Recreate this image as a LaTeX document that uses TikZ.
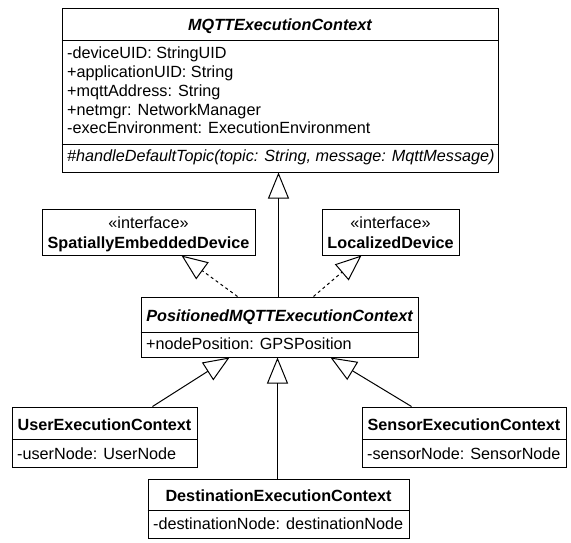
\documentclass[tikz,border=0pt]{standalone}
\usepackage{fontspec}
\setmainfont{Liberation Sans}
\usetikzlibrary{arrows.meta,calc}
\begin{document}
\begin{tikzpicture}[x=1pt,y=-1pt,
  box/.style={draw, line width=1pt, inner sep=0pt, fill=white},
  sepline/.style={line width=1pt},
  txt/.style={inner sep=0pt, font=\fontsize{16.2}{18}\selectfont},
  ttl/.style={txt, anchor=base, font=\fontsize{16.2}{18}\selectfont\bfseries},
  attr/.style={txt, anchor=base west},
  gen/.style={line width=1pt, -{Triangle[open, length=26pt, width=21pt, line width=1pt]}},
  real/.style={gen, dash pattern=on 3pt off 3pt}]
\useasboundingbox[fill=white] (0,0) rectangle (571,543);

% MQTTExecutionContext
\node[box, minimum width=436pt, minimum height=163pt] (main) at (280,90.5) {};
\draw[sepline] (main.west |- 0,41) -- (main.east |- 0,41);
\draw[sepline] (main.west |- 0,144) -- (main.east |- 0,144);
\node[ttl, font=\fontsize{16.2}{18}\selectfont\bfseries\itshape] (mainT) at (280,31) {MQTTExecutionContext};
\node[attr] (a1) at (67,59) {-deviceUID: StringUID};
\node[attr] (a2) at (67,78) {+applicationUID: String};
\node[attr] (a3) at (67,97) {+mqttAddress: String};
\node[attr] (a4) at (67,115.5) {+netmgr: NetworkManager};
\node[attr] (a5) at (67,134) {-execEnvironment: ExecutionEnvironment};
\node[attr, font=\fontsize{16.2}{18}\selectfont\itshape] (m1) at (67,161) {\#handleDefaultTopic(topic: String, message: MqttMessage)};

% Interfaces
\node[box, minimum width=213pt, minimum height=46pt] (sed) at (148.5,232) {};
\node[txt, anchor=base] (sedS) at (148.5,228) {«interface»};
\node[ttl] (sedT) at (148.5,248) {SpatiallyEmbeddedDevice};

\node[box, minimum width=137pt, minimum height=46pt] (loc) at (390.5,232) {};
\node[txt, anchor=base] (locS) at (390.5,228) {«interface»};
\node[ttl] (locT) at (390.5,248) {LocalizedDevice};

% PositionedMQTTExecutionContext
\node[box, minimum width=277pt, minimum height=60pt] (pos) at (279.5,327) {};
\draw[sepline] (pos.west |- 0,332) -- (pos.east |- 0,332);
\node[ttl, font=\fontsize{16.2}{18}\selectfont\bfseries\itshape] (posT) at (279.5,321) {PositionedMQTTExecutionContext};
\node[attr] (posA) at (146,349) {+nodePosition: GPSPosition};

% UserExecutionContext
\node[box, minimum width=185pt, minimum height=60pt] (user) at (104.5,437) {};
\draw[sepline] (user.west |- 0,439) -- (user.east |- 0,439);
\node[ttl] (userT) at (104.5,430) {UserExecutionContext};
\node[attr] (userA) at (17,459) {-userNode: UserNode};

% SensorExecutionContext
\node[box, minimum width=204pt, minimum height=60pt] (sensor) at (464,437) {};
\draw[sepline] (sensor.west |- 0,439) -- (sensor.east |- 0,439);
\node[ttl] (sensorT) at (464,430) {SensorExecutionContext};
\node[attr] (sensorA) at (367,459) {-sensorNode: SensorNode};

% DestinationExecutionContext
\node[box, minimum width=261pt, minimum height=59pt] (dest) at (278.5,508.5) {};
\draw[sepline] (dest.west |- 0,510) -- (dest.east |- 0,510);
\node[ttl] (destT) at (278.5,501) {DestinationExecutionContext};
\node[attr] (destA) at (153,529) {-destinationNode: destinationNode};

% Connectors
\draw[gen] ($(pos.north west)+(138,0)$) -- ($(main.south west)+(217,0)$);
\draw[real] ($(pos.north west)+(97,0)$) -- ($(sed.south west)+(140,0)$);
\draw[real] ($(pos.north west)+(173,0)$) -- ($(loc.south west)+(40,0)$);
\draw[gen] ($(user.north west)+(141,0)$) -- ($(pos.south west)+(89,0)$);
\draw[gen] ($(dest.north west)+(130,0)$) -- ($(pos.south west)+(137,0)$);
\draw[gen] ($(sensor.north west)+(50,0)$) -- ($(pos.south west)+(190,0)$);
\end{tikzpicture}
\end{document}
